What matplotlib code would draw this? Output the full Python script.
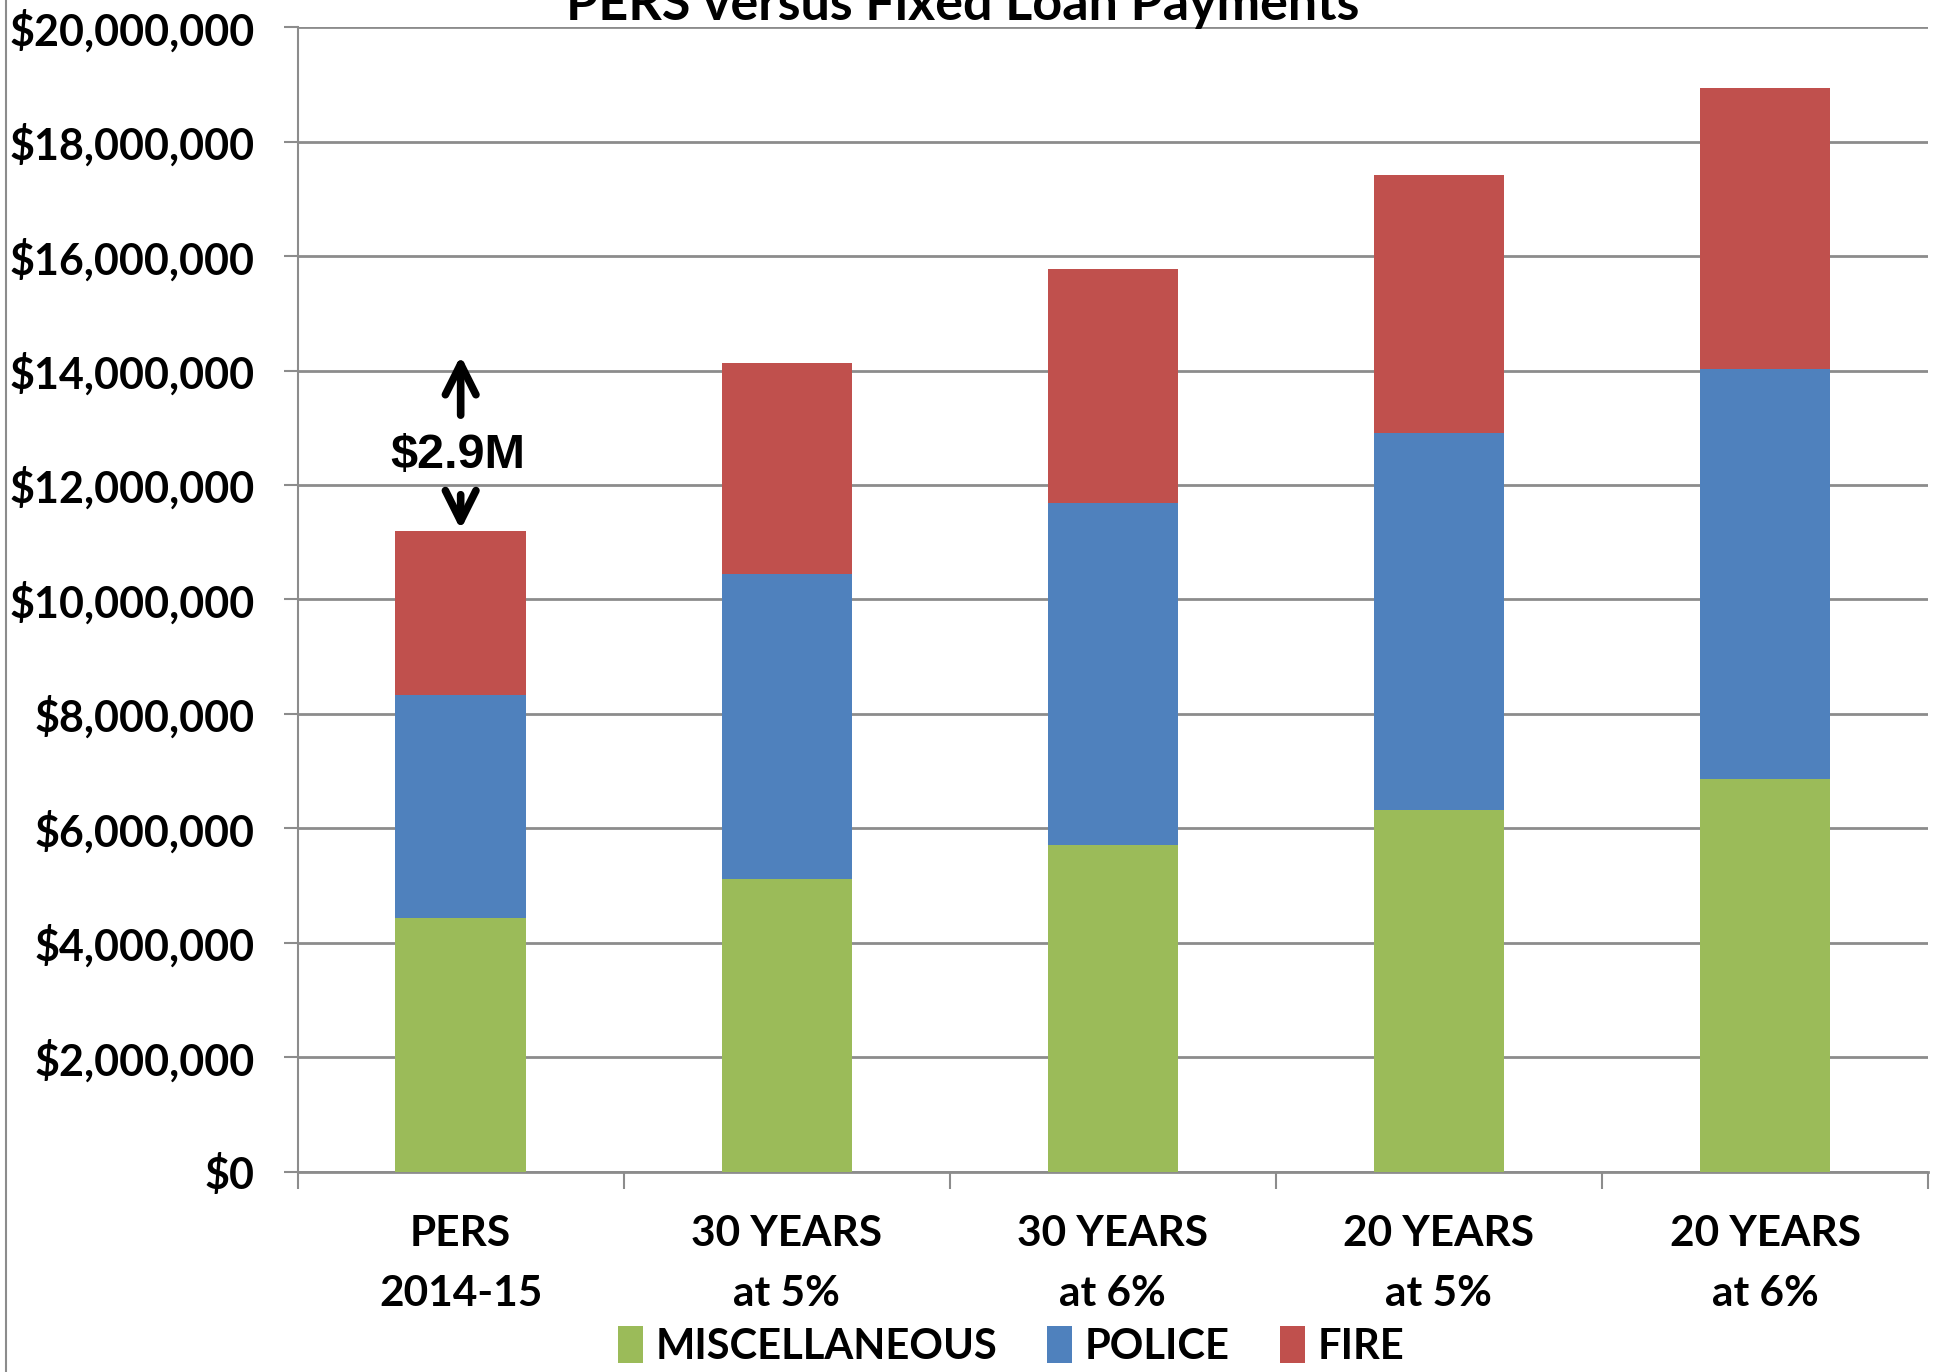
import matplotlib.pyplot as plt
import numpy as np
from matplotlib.lines import Line2D
from matplotlib.patches import Patch

categories = ["PERS\n2014-15", "30 YEARS\nat 5%", "30 YEARS\nat 6%", "20 YEARS\nat 5%", "20 YEARS\nat 6%"]
misc = [4.44e6, 5.11e6, 5.72e6, 6.33e6, 6.87e6]
police = [3.90e6, 5.33e6, 5.96e6, 6.58e6, 7.15e6]
fire = [2.86e6, 3.69e6, 4.09e6, 4.51e6, 4.92e6]
series_names = ["MISCELLANEOUS", "POLICE", "FIRE"]
colors = ["#9BBB59", "#4F81BD", "#C0504D"]
yticks = np.arange(0, 20e6 + 1, 2e6)

FONT = "Lato"
plt.rcParams['font.family'] = [FONT, 'DejaVu Sans']
plt.rcParams['font.weight'] = 'bold'

fig = plt.figure(figsize=(19.44, 13.72), dpi=100)
ax = fig.add_axes([0.1531, 0.1458, 0.8387, 0.8345])

x = np.arange(len(categories))
width = 0.4
bottom = np.zeros(len(categories))
for vals, c in zip([misc, police, fire], colors):
    ax.bar(x, vals, width, bottom=bottom, color=c, zorder=3)
    bottom += np.array(vals)

ax.set_xlim(-0.5, len(categories) - 0.5)
ax.set_ylim(0, 20e6)
ax.set_yticks(yticks)
ax.set_yticklabels(["${:,.0f}".format(v) for v in yticks], fontsize=31, fontweight='bold')
ax.yaxis.grid(True, color="#8c8c8c", linewidth=2, zorder=0)
ax.tick_params(axis='y', length=10, width=1.5, color="#8c8c8c", pad=21)

ax.set_xticks(np.arange(-0.5, len(categories)), minor=False)
ax.set_xticklabels([])
ax.set_xticks(x, minor=True)
ax.set_xticklabels(categories, minor=True, fontsize=30.5, fontweight='bold', linespacing=1.7)
ax.tick_params(axis='x', which='major', length=12, width=1.5, color="#8c8c8c")
ax.tick_params(axis='x', which='minor', length=0, pad=31)

for s in ['top', 'right']:
    ax.spines[s].set_visible(False)
ax.spines['left'].set_color("#8c8c8c")
ax.spines['left'].set_linewidth(1.5)
ax.spines['bottom'].set_color("#8c8c8c")
ax.spines['bottom'].set_linewidth(2)

# $2.9M gap annotation
arrow = dict(arrowstyle='->,head_length=1.1,head_width=0.55', lw=5.5, color='black',
             mutation_scale=20, shrinkA=0, shrinkB=0, capstyle='round', joinstyle='round')
ax.annotate("", xy=(0, 14.26e6), xytext=(0, 13.22e6), arrowprops=arrow)
ax.annotate("", xy=(0, 11.22e6), xytext=(0, 11.83e6), arrowprops=arrow)
ax.text(-0.01, 12.51e6, "$2.9M", ha='center', va='center', fontsize=35,
        fontweight='bold', family='Liberation Sans')

fig.text(0.495, 1 - 20 / 1372, "PERS versus Fixed Loan Payments", ha='center', va='baseline',
         fontsize=37.5, fontweight='bold')

handles = [Patch(facecolor=c) for c in colors]
fig.legend(handles, series_names, loc='center', bbox_to_anchor=(0.52, 1 - 1346 / 1372), ncol=3,
           frameon=False, fontsize=30, handlelength=0.6, handleheight=1.0, handletextpad=0.3,
           columnspacing=1.2)

fig.add_artist(Line2D([6 / 1944, 6 / 1944], [0, 1], color="#8c8c8c", lw=1.5))

fig.savefig("out.png", dpi=100)
